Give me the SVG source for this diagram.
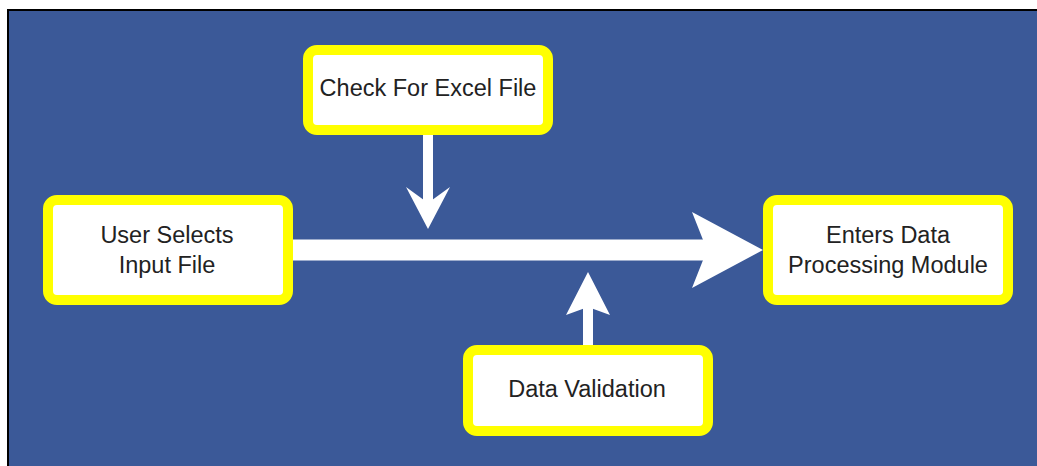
<svg xmlns="http://www.w3.org/2000/svg" width="1037" height="466" viewBox="0 0 1037 466">
<style>
.box{fill:#ffffff;stroke:#ffff00;stroke-width:10}
.lbl{font-family:"Liberation Sans",Arial,sans-serif;font-size:23.5px;fill:#222222;text-anchor:middle}
.conn{fill:#ffffff}
</style>
<rect x="0" y="0" width="1037" height="466" fill="#ffffff"/>
<rect x="8" y="10" width="1040" height="470" fill="#3b5998" stroke="#000000" stroke-width="2"/>
<g id="connectors">
<rect class="conn" x="290" y="239.5" width="420" height="21"/>
<polygon class="conn" points="763,250 692,212 707,250 692,288"/>
<rect class="conn" x="423" y="133" width="10" height="72"/>
<polygon class="conn" points="428,229 406,187 428,203 450,187"/>
<rect class="conn" x="583" y="305" width="10" height="42"/>
<polygon class="conn" points="588,272 566,315 588,307 610,315"/>
</g>
<g id="node-user">
<rect class="box" x="48" y="200" width="240" height="100" rx="9"/>
<text class="lbl" x="167" y="243">User Selects</text>
<text class="lbl" x="167" y="272.5">Input File</text>
</g>
<g id="node-check">
<rect class="box" x="308" y="50" width="240" height="80" rx="9"/>
<text class="lbl" x="428" y="96">Check For Excel File</text>
</g>
<g id="node-enters">
<rect class="box" x="768" y="200" width="240" height="100" rx="9"/>
<text class="lbl" x="888" y="243">Enters Data</text>
<text class="lbl" x="888" y="272.5">Processing Module</text>
</g>
<g id="node-validation">
<rect class="box" x="468" y="350" width="240" height="81" rx="9"/>
<text class="lbl" x="587" y="397">Data Validation</text>
</g>
</svg>
